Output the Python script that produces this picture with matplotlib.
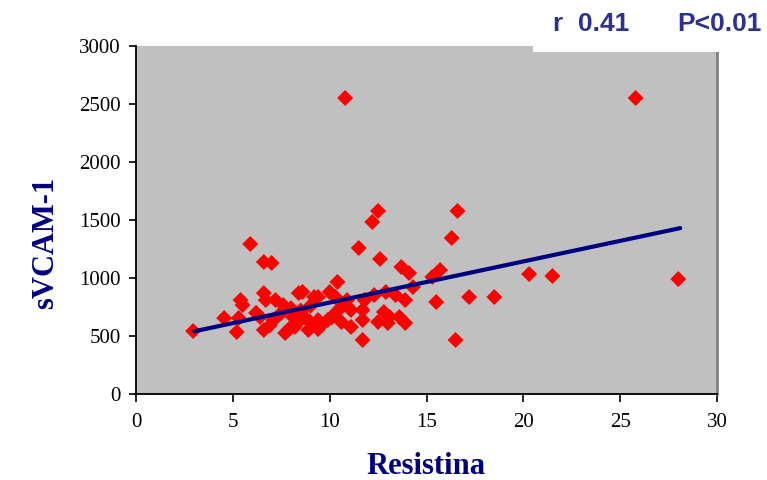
import matplotlib.pyplot as plt
from matplotlib.patches import Rectangle

# -------------------------------
# Data
# -------------------------------
resistina = [
    2.95, 4.55, 5.4, 5.5, 5.3, 5.2, 5.9, 6.6, 7.0, 6.6,
    6.7, 6.6, 6.4, 6.9, 7.2, 7.6, 7.1, 7.5, 8.4, 8.6,
    9.2, 8.1, 8.2, 7.7, 8.7, 8.9, 9.4, 8.0, 8.5, 9.0,
    9.6, 10.4, 10.3, 9.4, 14.1, 15.3, 14.3, 12.9, 13.4, 13.9,
    15.5, 12.3, 11.7, 11.1, 10.6, 10.3, 10.6, 9.9, 9.4, 11.7,
    11.1, 12.5, 12.8, 13.1, 13.6, 13.9, 13.0, 11.7, 9.4, 10.8,
    25.8, 28.0, 21.5, 20.3, 18.5, 17.2, 16.5, 16.6, 16.3, 15.7,
    12.5, 12.2, 11.5, 12.6, 13.7, 10.9, 10.0, 11.8, 8.3, 7.9,
    6.2, 10.1, 9.0,
]
svcam = [
    543, 655, 810, 767, 655, 534, 1293, 1138, 1130, 870,
    810, 552, 664, 590, 810, 767, 638, 700, 870, 880,
    836, 664, 578, 526, 664, 552, 638, 740, 720, 760,
    600, 966, 836, 836, 1043, 1009, 922, 879, 853, 810,
    793, 853, 724, 724, 750, 698, 621, 638, 612, 638,
    578, 621, 707, 664, 664, 612, 612, 466, 560, 2552,
    2552, 991, 1017, 1034, 836, 836, 466, 1578, 1345, 1069,
    1578, 1483, 1259, 1164, 1095, 810, 880, 810, 610, 560,
    700, 660, 620,
]

# regression line end points
trend_x = [3.0, 28.1]
trend_y = [540, 1430]

xticks = [0, 5, 10, 15, 20, 25, 30]
yticks = [0, 500, 1000, 1500, 2000, 2500, 3000]

navy = "#000080"
serif = ["Liberation Serif", "DejaVu Serif"]
sans = ["Liberation Sans Narrow", "Liberation Sans", "DejaVu Sans"]

# -------------------------------
# Figure
# -------------------------------
fig = plt.figure(figsize=(7.67, 4.80), dpi=100)
ax = fig.add_axes([136 / 767, 86 / 480, 581 / 767, 348 / 480])
ax.set_facecolor("#c0c0c0")

ax.scatter(resistina, svcam, marker="D", s=66, color="red",
           edgecolors="none", zorder=3)
ax.plot(trend_x, trend_y, color=navy, linewidth=3, zorder=4,
        solid_capstyle="round")

ax.set_xlim(0, 30)
ax.set_ylim(0, 3000)
ax.set_xticks(xticks)
ax.set_yticks(yticks)

for lab in ax.get_xticklabels() + ax.get_yticklabels():
    lab.set_family(serif)
    lab.set_fontsize(15)

ax.tick_params(axis="y", direction="out", length=5, width=1.2, pad=6)
ax.tick_params(axis="x", direction="out", length=6, width=1.2, pad=8)

ax.spines["top"].set_visible(False)
ax.spines["right"].set_color("#808080")
ax.spines["right"].set_linewidth(2)
ax.spines["left"].set_linewidth(1.3)
ax.spines["bottom"].set_linewidth(1.3)

# axis labels
fig.text(46 / 767, 1 - 243 / 480, "sVCAM-1", rotation=90, ha="center",
         va="center", family=serif, fontweight="bold", fontsize=22,
         color=navy)
fig.text(426 / 767, 1 - 466 / 480, "Resistina", ha="center", va="center",
         family=serif, fontweight="bold", fontsize=22, color=navy)

# white stats box in the top right corner
fig.patches.append(Rectangle((533 / 767, 1 - 52 / 480), 1, 1,
                             transform=fig.transFigure, facecolor="white",
                             edgecolor="none", zorder=5))
fig.text(553 / 767, 1 - 24 / 480, "r  0.41", ha="left", va="center",
         family=sans, fontweight="bold", fontsize=19, color="#2e3192",
         zorder=6)
fig.text(762 / 767, 1 - 24 / 480, "P<0.01", ha="right", va="center",
         family=sans, fontweight="bold", fontsize=19, color="#2e3192",
         zorder=6)

fig.savefig("out.png", dpi=100)
